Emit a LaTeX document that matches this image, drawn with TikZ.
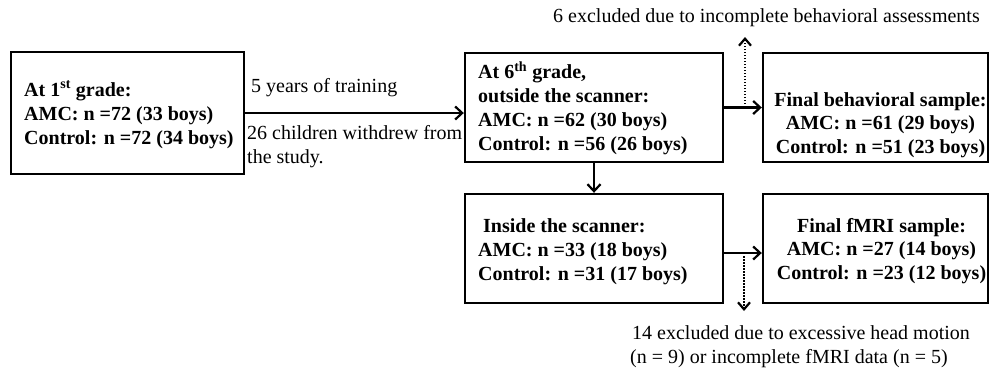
\documentclass[tikz,border=0pt]{standalone}
\usepackage{fontspec}
\setmainfont{Liberation Serif}
\usetikzlibrary{arrows.meta}
\begin{document}
\begin{tikzpicture}[x=1pt,y=-1pt,
  box/.style={draw, line width=2.4pt, inner sep=0pt},
  bt/.style={inner sep=0pt, align=left, anchor=base west, font=\fontsize{20}{23.8}\selectfont\bfseries},
  btc/.style={inner sep=0pt, align=center, anchor=base, font=\fontsize{20}{23.5}\selectfont\bfseries},
  rt/.style={inner sep=0pt, align=left, anchor=base west, font=\fontsize{20}{24}\selectfont},
  arr/.style={line width=2.2pt, -{Straight Barb[length=7pt,width=13pt,line width=2.2pt]}},
  darr/.style={line width=2.4pt, dash pattern=on 1.5pt off 1.5pt, -{Straight Barb[length=7pt,width=12pt,line width=2.2pt,sep=0pt]}}
]
\useasboundingbox (0,0) rectangle (990,368);
% boxes
\node[box, minimum width=233pt, minimum height=122pt] (b1) at (127.5,113) {};
\node[box, minimum width=258pt, minimum height=109pt] (b2) at (594,107.5) {};
\node[box, minimum width=225pt, minimum height=109pt] (b3) at (875.5,107.5) {};
\node[box, minimum width=258pt, minimum height=109pt] (b4) at (594,248.5) {};
\node[box, minimum width=225pt, minimum height=109pt] (b5) at (875.5,248.5) {};
% box texts (anchored at the baseline of the last line)
\node[bt] (t1) at (24,144) {At 1\textsuperscript{st} grade:\\AMC: n =72 (33 boys)\\Control: n =72 (34 boys)};
\node[bt] (t2) at (478,150) {At 6\textsuperscript{th} grade,\\outside the scanner:\\AMC: n =62 (30 boys)\\Control: n =56 (26 boys)};
\node[btc] (t3) at (880.5,153) {Final behavioral sample:\\AMC: n =61 (29 boys)\\Control: n =51 (23 boys)};
\node[bt] (t4) at (478,280) {\hspace{5pt}Inside the scanner:\\AMC: n =33 (18 boys)\\Control: n =31 (17 boys)};
\node[btc] (t5) at (881.5,279) {Final fMRI sample:\\AMC: n =27 (14 boys)\\Control: n =23 (12 boys)};
% arrow labels
\node[rt] (l1) at (251,92.5) {5 years of training};
\node[rt] (l2) at (247,163) {26 children withdrew from\\the study.};
\node[rt] (l3) at (553,22) {6 excluded due to incomplete behavioral assessments};
\node[rt] (l4) at (630,363) {\hspace{2pt}14 excluded due to excessive head motion\\(n = 9) or incomplete fMRI data (n = 5)};
% connectors
\draw[arr] (b1.east) -- (b1.east -| b2.west);
\draw[arr] (b2.east) -- (b3.west);
\draw[arr] (b2.south) -- (b4.north);
\draw[arr] ([yshift=-4.5pt]b4.east) -- ([yshift=-4.5pt]b5.west);
\coordinate (j1) at (745,104);
\coordinate (u1) at (745,37);
\coordinate (j2) at (744,256);
\coordinate (d1) at (744,311);
\draw[darr] (j1) -- (u1);
\draw[darr] (j2) -- (d1);
\end{tikzpicture}
\end{document}
